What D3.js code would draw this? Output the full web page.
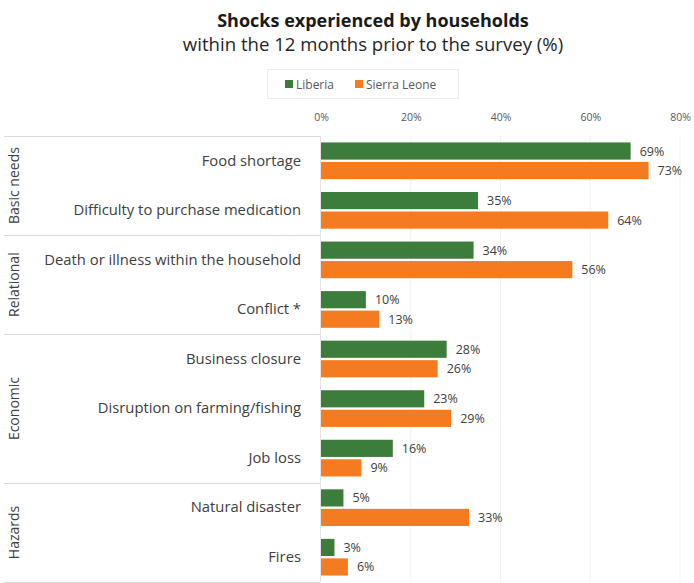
<!DOCTYPE html>
<html>
<head>
<meta charset="utf-8">
<script src="https://cdn.jsdelivr.net/npm/d3@7/dist/d3.min.js"></script>
<style>
  html, body { margin: 0; padding: 0; background: #fff; }
  svg { display: block; font-family: "Open Sans", Lato, sans-serif; }
</style>
</head>
<body>
<svg id="chart" width="694" height="583"></svg>
<script>
// Shock categories, top to bottom
const categories = [
  "Food shortage",
  "Difficulty to purchase medication",
  "Death or illness within the household",
  "Conflict *",
  "Business closure",
  "Disruption on farming/fishing",
  "Job loss",
  "Natural disaster",
  "Fires"
];
// Share of households (%) per country
const liberia     = [69, 35, 34, 10, 28, 23, 16, 5, 3];
const sierraLeone = [73, 64, 56, 13, 26, 29, 9, 33, 6];
const seriesNames = ["Liberia", "Sierra Leone"];
// Category groups and how many rows each spans
const groupNames = ["Basic needs", "Relational", "Economic", "Hazards"];
const groupSizes = [2, 2, 3, 2];
const xTicks = [0, 20, 40, 60, 80];

const colors = ["#3c7d3b", "#f47b20"];
const FONT = "'Open Sans', Lato, sans-serif";
const svg = d3.select("#chart");

const x = d3.scaleLinear().domain([0, 80]).range([321, 680]);
const y = d3.scaleBand().domain(categories).range([136, 582]).paddingInner(0.26).paddingOuter(0.13);
const sub = d3.scaleBand().domain(seriesNames).range([0, y.bandwidth()]).paddingInner(0.12);

// Title
svg.append("text").attr("x", 373).attr("y", 27).attr("text-anchor", "middle")
  .attr("font-size", 18).attr("font-weight", "bold").attr("fill", "#1a1a1a")
  .text("Shocks experienced by households");
svg.append("text").attr("x", 373).attr("y", 51).attr("text-anchor", "middle")
  .attr("font-size", 18.6).attr("fill", "#262626")
  .text("within the 12 months prior to the survey (%)");

// Legend
const legend = svg.append("g");
legend.append("rect").attr("x", 267.5).attr("y", 69.5).attr("width", 191).attr("height", 29)
  .attr("fill", "#fff").attr("stroke", "#ececec");
const legX = [285, 355];
seriesNames.forEach((n, i) => {
  legend.append("rect").attr("x", legX[i]).attr("y", 80).attr("width", 8).attr("height", 8).attr("fill", colors[i]);
  legend.append("text").attr("x", legX[i] + 11).attr("y", 88.5).attr("font-size", 12)
    .attr("fill", "#595959").text(n);
});

// Vertical gridlines
svg.append("g").selectAll("line").data(xTicks.slice(1)).join("line")
  .attr("x1", d => x(d)).attr("x2", d => x(d)).attr("y1", 136).attr("y2", 582)
  .attr("stroke", "#f3f3f3");

// Top value axis
const xAxis = d3.axisTop(x).tickValues(xTicks).tickFormat(d => d + "%").tickSize(0);
const gx = svg.append("g").attr("transform", "translate(0,124)").call(xAxis);
gx.select(".domain").remove();
gx.selectAll("text").attr("font-size", 10.5).attr("fill", "#595959").attr("font-family", FONT);

// Group separators and left frame
let idx = 0;
const bounds = [];
groupSizes.forEach(s => { bounds.push(idx); idx += s; });
const rowTop = i => y(categories[i]) - y.step() * y.paddingInner() / 2;
const sepYs = bounds.map(b => b === 0 ? 136 : rowTop(b)).concat([582]);
svg.append("g").selectAll("line").data(sepYs).join("line")
  .attr("x1", 4).attr("x2", 320).attr("y1", d => Math.round(d) + 0.5).attr("y2", d => Math.round(d) + 0.5)
  .attr("stroke", "#d9d9d9");
svg.append("line").attr("x1", 320.5).attr("x2", 320.5).attr("y1", 136).attr("y2", 582).attr("stroke", "#e3e3e3");

// Group labels, rotated
groupNames.forEach((g, i) => {
  const cy = (sepYs[i] + sepYs[i + 1]) / 2;
  svg.append("text").attr("transform", `translate(19,${cy}) rotate(-90)`)
    .attr("text-anchor", "middle").attr("font-size", 14).attr("fill", "#404040").text(g);
});

// Category labels
const yAxis = d3.axisLeft(y).tickSize(0).tickPadding(0);
const gy = svg.append("g").attr("transform", "translate(301,0)").call(yAxis);
gy.select(".domain").remove();
gy.selectAll("text").attr("font-size", 14.8).attr("fill", "#404040").attr("font-family", FONT);

// Bars
const rows = categories.map((c, i) => ({ c, vals: [liberia[i], sierraLeone[i]] }));
const row = svg.append("g").selectAll("g").data(rows).join("g")
  .attr("transform", d => `translate(0,${y(d.c)})`);
row.selectAll("rect").data(d => d.vals.map((v, i) => ({ v, s: seriesNames[i], i }))).join("rect")
  .attr("x", x(0)).attr("y", d => sub(d.s)).attr("width", d => x(d.v) - x(0))
  .attr("height", sub.bandwidth()).attr("fill", d => colors[d.i]);
row.selectAll("text").data(d => d.vals.map((v, i) => ({ v, s: seriesNames[i] }))).join("text")
  .attr("x", d => x(d.v) + 9).attr("y", d => sub(d.s) + sub.bandwidth() / 2).attr("dy", "0.36em")
  .attr("font-size", 12.5).attr("fill", "#404040").text(d => d.v + "%");
</script>
</body>
</html>
